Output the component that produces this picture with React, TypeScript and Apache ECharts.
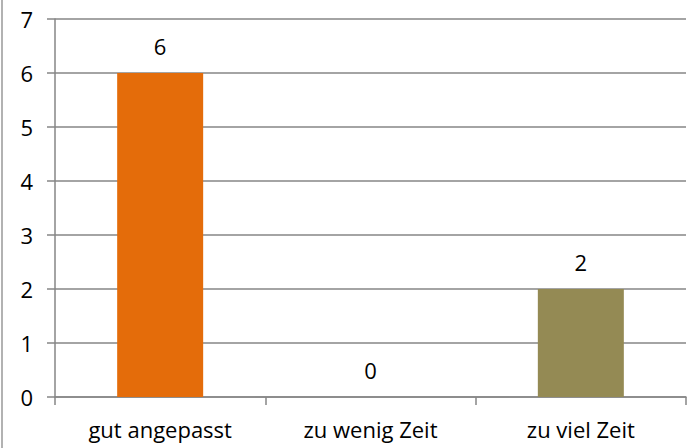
import React, { useEffect, useRef } from "react";
import * as echarts from "echarts";

const categories = ["gut angepasst", "zu wenig Zeit", "zu viel Zeit"];
const values = [6, 0, 2];
const yTicks = [0, 1, 2, 3, 4, 5, 6, 7];

const BAR_COLORS = ["#E46C0A", "#7F7F7F", "#948A54"];
const FONT = "'Open Sans', sans-serif";

export default function App() {
  const ref = useRef<HTMLDivElement>(null);
  useEffect(() => {
    if (!ref.current) return;
    const chart = echarts.init(ref.current, null, { renderer: "svg" });
    chart.setOption({
      animation: false,
      backgroundColor: "#ffffff",
      grid: { left: 55, right: 11, top: 19, bottom: 51, containLabel: false },
      xAxis: {
        type: "category",
        data: categories,
        axisLine: { show: true, lineStyle: { color: "#868686", width: 1.5 } },
        axisTick: { show: true, length: 8, lineStyle: { color: "#868686", width: 1.5 } },
        axisLabel: { color: "#000", fontSize: 22, fontFamily: FONT, margin: 21 },
      },
      yAxis: {
        type: "value",
        min: yTicks[0],
        max: yTicks[yTicks.length - 1],
        interval: 1,
        axisLine: { show: true, lineStyle: { color: "#868686", width: 1.5 } },
        axisTick: { show: true, length: 8, lineStyle: { color: "#868686", width: 1.5 } },
        axisLabel: { color: "#000", fontSize: 22, fontFamily: FONT, margin: 22 },
        splitLine: { show: true, lineStyle: { color: "#868686", width: 1.5 } },
      },
      graphic: [
        {
          type: "line",
          shape: { x1: 2, y1: 0, x2: 2, y2: 448 },
          style: { stroke: "#999999", lineWidth: 1.5 },
        },
      ],
      series: [
        {
          type: "bar",
          barWidth: 86,
          data: values.map((v, i) => ({
            value: v,
            itemStyle: { color: BAR_COLORS[i % BAR_COLORS.length] },
          })),
          label: {
            show: true,
            position: "top",
            distance: 16,
            color: "#000",
            fontSize: 22,
            fontFamily: FONT,
          },
        },
      ],
    });
    return () => chart.dispose();
  }, []);
  return (
    <div
      ref={ref}
      style={{ position: "fixed", left: 0, top: 0, width: 697, height: 448 }}
    />
  );
}
